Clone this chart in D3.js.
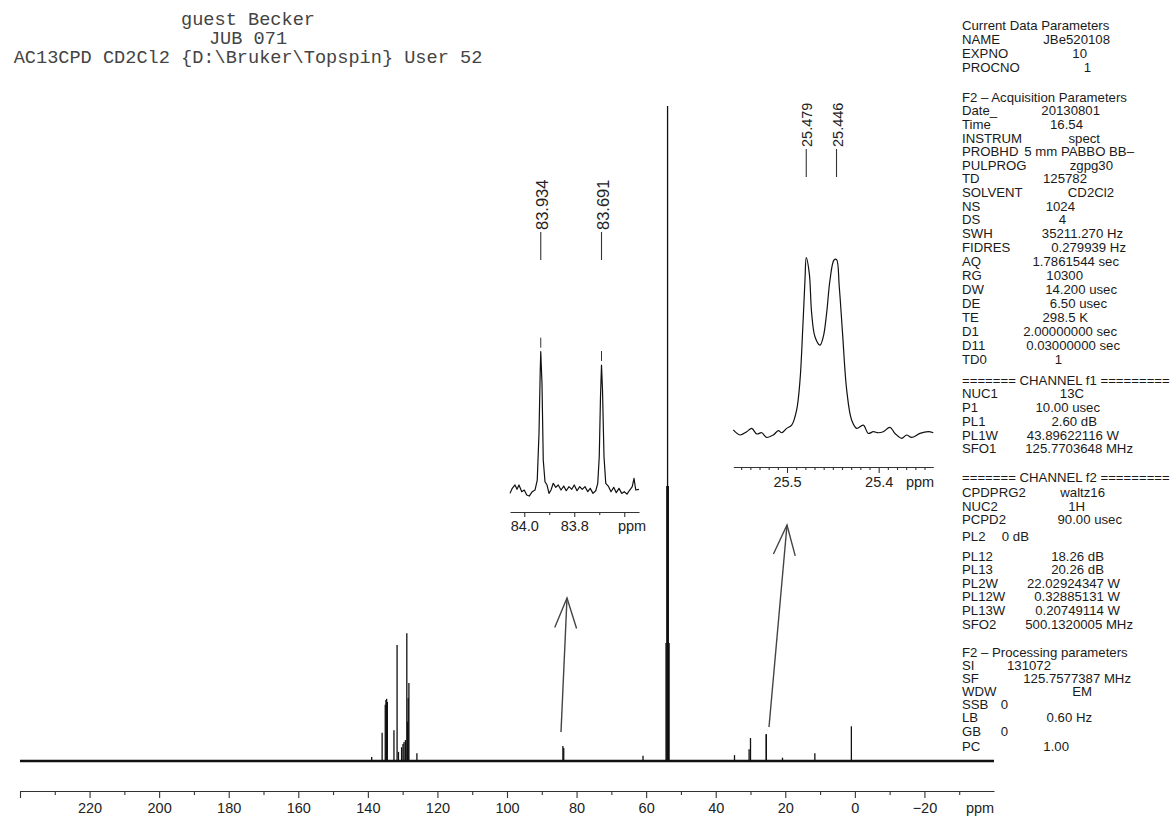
<!DOCTYPE html>
<html>
<head>
<meta charset="utf-8">
<script src="https://cdn.jsdelivr.net/npm/d3@7"></script>
<style>
  html, body { margin: 0; padding: 0; background: #fff; }
  svg { display: block; }
</style>
</head>
<body>
<svg id="nmr" width="1175" height="816"></svg>
<script>
// ---- data ----
const titleLines = ["guest Becker", "JUB 071", "AC13CPD CD2Cl2 {D:\\Bruker\\Topspin} User 52"];

// main 13C spectrum: [ppm, intensity in % of the solvent line]
const mainPeaks = [
  [138.9, 0.6], [135.9, 4.3], [135.0, 8.6], [134.8, 9.3], [134.6, 9.5], [134.4, 9.0],
  [132.5, 4.7], [131.6, 17.7], [131.2, 1.4], [130.3, 2.1], [129.9, 2.6], [129.6, 2.9],
  [129.2, 3.2], [128.8, 19.5], [128.6, 6.0], [128.4, 9.6], [128.2, 11.9], [125.9, 1.2],
  [83.934, 2.3], [83.691, 2.0], [60.9, 0.8],
  [54.28, 18], [54.06, 42], [53.84, 100], [53.62, 42], [53.40, 18],
  [34.6, 0.9], [30.4, 1.8], [30.0, 3.5], [25.479, 4.1], [25.446, 4.1],
  [20.8, 0.5], [11.5, 1.2], [1.0, 5.3]
];
const mainMajorTicks = [240, 220, 200, 180, 160, 140, 120, 100, 80, 60, 40, 20, 0, -20];
const mainMinorTicks = [230, 210, 190, 170, 150, 130, 110, 90, 70, 50, 30, 10, -10, -30];
const mainTickLabels = [220, 200, 180, 160, 140, 120, 100, 80, 60, 40, 20, 0, -20];

// inset around 83.8 ppm: [ppm, relative intensity]
const inset1Spectrum = [
  [84.057, -1.2], [84.048, 2.4], [84.037, 4.8], [84.029, 1.7], [84.021, 4.8], [84.010, 0],
  [84.000, 1.2], [83.990, -2.4], [83.980, -3.1], [83.968, 0], [83.957, 1.2], [83.948, 8.3],
  [83.941, 41.7], [83.936, 87], [83.934, 100], [83.929, 77], [83.924, 22.6], [83.917, 7.1],
  [83.909, 4.8], [83.901, -1.2], [83.893, 1.2], [83.884, 6], [83.874, 3.1], [83.864, 4.8],
  [83.853, 1.2], [83.842, 4], [83.832, 0.7], [83.821, 3.6], [83.810, 1.7], [83.800, 4.8],
  [83.789, 0.7], [83.778, 3.6], [83.768, 1.7], [83.757, 3.6], [83.746, 0], [83.736, 2.4],
  [83.725, -1.2], [83.714, 0.7], [83.706, 6], [83.700, 25], [83.695, 68], [83.691, 90.5],
  [83.687, 72.6], [83.681, 25], [83.674, 6], [83.664, 4], [83.653, 0], [83.642, 3.1],
  [83.632, -0.7], [83.621, 2.4], [83.610, -1.2], [83.600, 0], [83.589, -1.7], [83.578, 1.2],
  [83.568, 3.6], [83.561, 9.5], [83.554, 1.2], [83.541, 1.7]
];
const inset1Picks = [[83.934, 100], [83.691, 90.5]];
const inset1MajorTicks = [84.0, 83.8, 83.6];
const inset1MinorTicks = [83.9, 83.7];
const inset1TickLabels = [84.0, 83.8];

// inset around 25.45 ppm
const inset2Spectrum = [
  [25.5586, 1.0], [25.5513, -1.9], [25.5440, 0], [25.5385, 1.9], [25.5331, -1.3], [25.5276, -0.6],
  [25.5222, -3.3], [25.5149, -1.9], [25.5095, 0.6], [25.5058, -0.6], [25.5004, 1.9], [25.4949, 3.8],
  [25.4895, 12.5], [25.4858, 29.7], [25.4829, 58.4], [25.4804, 87.2], [25.479, 100], [25.4757, 91],
  [25.4731, 68], [25.4695, 54.6], [25.4640, 49.8], [25.4604, 54.6], [25.4568, 68], [25.4531, 87.2],
  [25.4487, 98.7], [25.446, 99], [25.4430, 83.3], [25.4394, 56.5], [25.4349, 24], [25.4295, 6.7],
  [25.4240, 1.9], [25.4168, 3.8], [25.4113, -1], [25.4059, 0], [25.4004, -0.6], [25.3950, 0],
  [25.3877, 2.5], [25.3822, -1], [25.3749, -3.8], [25.3695, -1.9], [25.3640, -3.3], [25.3550, -1],
  [25.3459, 0], [25.3404, -0.6]
];
const inset2Picks = [25.479, 25.446];
const inset2MajorTicks = [25.5, 25.4];
const inset2MinorTicks = [25.55, 25.54, 25.53, 25.52, 25.51, 25.49, 25.48, 25.47, 25.46, 25.45,
  25.44, 25.43, 25.42, 25.41, 25.39, 25.38, 25.37, 25.36, 25.35];
const inset2TickLabels = [25.5, 25.4];

// parameter block
const paramLabels = ["Current Data Parameters", "NAME", "EXPNO", "PROCNO",
  "F2 \u2013 Acquisition Parameters", "Date_", "Time", "INSTRUM", "PROBHD", "PULPROG", "TD",
  "SOLVENT", "NS", "DS", "SWH", "FIDRES", "AQ", "RG", "DW", "DE", "TE", "D1", "D11", "TD0",
  "======= CHANNEL f1 =========", "NUC1", "P1", "PL1", "PL1W", "SFO1",
  "======= CHANNEL f2 =========", "CPDPRG2", "NUC2", "PCPD2", "PL2", "PL12", "PL13",
  "PL2W", "PL12W", "PL13W", "SFO2",
  "F2 \u2013 Processing parameters", "SI", "SF", "WDW", "SSB", "LB", "GB", "PC"];
const paramValues = ["", "JBe520108", "10", "1",
  "", "20130801", "16.54", "spect", "5 mm PABBO BB\u2013", "zgpg30", "125782",
  "CD2Cl2", "1024", "4", "35211.270 Hz", "0.279939 Hz", "1.7861544 sec", "10300", "14.200 usec",
  "6.50 usec", "298.5 K", "2.00000000 sec", "0.03000000 sec", "1",
  "", "13C", "10.00 usec", "2.60 dB", "43.89622116 W", "125.7703648 MHz",
  "", "waltz16", "1H", "90.00 usec", "0 dB", "18.26 dB", "20.26 dB",
  "22.02924347 W", "0.32885131 W", "0.20749114 W", "500.1320005 MHz",
  "", "131072", "125.7577387 MHz", "EM", "0", "0.60 Hz", "0", "1.00"];

// ---- layout ----
const svg = d3.select("svg#nmr");
const sans = "'Liberation Sans', Arial, Helvetica, sans-serif";
const ink = "#222";

const baseY = 761, axisY = 791;
const x = d3.scaleLinear().domain([240, -40]).range([20, 994]);
const y = d3.scaleLinear().domain([0, 100]).range([baseY, 106]);

const paramX = 962;
const paramRowY = [25, 39, 53, 67,
  97, 110, 124, 138, 151, 165, 178, 192, 206, 219, 233, 247, 261, 275, 289, 303, 317, 331, 345, 359,
  380, 393, 407, 421, 435, 448,
  477, 492, 506, 519, 536, 556, 569, 583, 596, 610, 624,
  652, 665, 678, 691, 704, 717, 731, 746];
// right end of each value; PROBHD value starts just after its label instead
const paramValueEnd = [null, 1110, 1087, 1091,
  null, 1100, 1083, 1100, 1134, 1113, 1087, 1114, 1075, 1066, 1123, 1126, 1119, 1083, 1117, 1107, 1088, 1117, 1120, 1062,
  null, 1084, 1100, 1097, 1119, 1133,
  null, 1105, 1085, 1122, 1029, 1104, 1104, 1120, 1120, 1120, 1133,
  null, 1051, 1131, 1092, 1008, 1092, 1008, 1069];

// title
svg.append("g").selectAll("text")
  .data(titleLines)
  .join("text")
  .attr("x", 248)
  .attr("y", (d, i) => 25 + i * 19)
  .attr("text-anchor", "middle")
  .attr("font-family", "'Liberation Mono', 'Courier New', monospace")
  .attr("font-size", 18.6)
  .attr("fill", "#444")
  .text(d => d);

// parameter block
const params = svg.append("g").attr("font-family", sans).attr("font-size", 13.2).attr("fill", "#1a1a1a");
params.selectAll("text.lab")
  .data(paramLabels)
  .join("text")
  .attr("class", "lab")
  .attr("x", paramX)
  .attr("y", (d, i) => paramRowY[i])
  .attr("dominant-baseline", "central")
  .text(d => d);
params.selectAll("text.val")
  .data(paramValues)
  .join("text")
  .attr("class", "val")
  .attr("x", (d, i) => paramValueEnd[i] || 0)
  .attr("y", (d, i) => paramRowY[i])
  .attr("text-anchor", "end")
  .attr("dominant-baseline", "central")
  .text(d => d);

// main spectrum
const chart = svg.append("g").attr("id", "spectrum");
chart.append("path")
  .datum([[240, 0], [-40, 0]])
  .attr("fill", "none")
  .attr("stroke", "#111")
  .attr("stroke-width", 2.3)
  .attr("d", d3.line().x(d => x(d[0])).y(d => y(d[1])));
chart.selectAll("line.peak")
  .data(mainPeaks)
  .join("line")
  .attr("class", "peak")
  .attr("x1", d => x(d[0]))
  .attr("x2", d => x(d[0]))
  .attr("y1", y(0))
  .attr("y2", d => y(d[1]))
  .attr("stroke", "#111")
  .attr("stroke-width", 1.3);

// main axis
function styleAxis(g, size) {
  g.attr("font-family", sans).attr("font-size", size);
  g.select(".domain").attr("stroke", "#333").attr("stroke-width", 1.2);
  g.selectAll(".tick line").attr("stroke", "#333").attr("stroke-width", 1.1);
  g.selectAll(".tick text").attr("fill", ink);
}
const fmtMain = d => mainTickLabels.includes(d) ? d3.format("d")(d) : "";
const mainAxis = svg.append("g")
  .attr("transform", `translate(0,${axisY})`)
  .call(d3.axisBottom(x).tickValues(mainMajorTicks).tickSize(7).tickPadding(5)
    .tickSizeOuter(0).tickFormat(fmtMain));
styleAxis(mainAxis, 14.5);
const mainMinor = svg.append("g")
  .attr("transform", `translate(0,${axisY})`)
  .call(d3.axisBottom(x).tickValues(mainMinorTicks).tickSize(4).tickFormat(""));
mainMinor.select(".domain").remove();
styleAxis(mainMinor, 14.5);
svg.append("text")
  .attr("x", 980).attr("y", axisY + 12).attr("dy", "0.71em")
  .attr("text-anchor", "middle")
  .attr("font-family", sans).attr("font-size", 14.5).attr("fill", ink)
  .text("ppm");

// inset 1 (83.9 / 83.7 ppm)
const xi1 = d3.scaleLinear().domain([84.057, 83.541]).range([510, 639]);
const yi1 = d3.scaleLinear().domain([0, 100]).range([491.7, 351.7]);
const inset1 = svg.append("g").attr("id", "inset1");
inset1.append("path")
  .datum(inset1Spectrum)
  .attr("fill", "none")
  .attr("stroke", "#111")
  .attr("stroke-width", 1.2)
  .attr("stroke-linejoin", "round")
  .attr("d", d3.line().x(d => xi1(d[0])).y(d => yi1(d[1])));
inset1.selectAll("line.pick")
  .data(inset1Picks)
  .join("line")
  .attr("class", "pick")
  .attr("x1", d => xi1(d[0])).attr("x2", d => xi1(d[0]))
  .attr("y1", d => yi1(d[1]) - 14).attr("y2", d => yi1(d[1]) - 4)
  .attr("stroke", "#333").attr("stroke-width", 1);
const fmt1 = d => inset1TickLabels.includes(d) ? d3.format(".1f")(d) : "";
const in1Axis = inset1.append("g")
  .attr("transform", "translate(0,512)")
  .call(d3.axisBottom(xi1).tickValues(inset1MajorTicks).tickSize(5).tickPadding(4)
    .tickSizeOuter(0).tickFormat(fmt1));
styleAxis(in1Axis, 14.5);
const in1Minor = inset1.append("g")
  .attr("transform", "translate(0,512)")
  .call(d3.axisBottom(xi1).tickValues(inset1MinorTicks).tickSize(3).tickFormat(""));
in1Minor.select(".domain").remove();
styleAxis(in1Minor, 14.5);
inset1.append("text")
  .attr("x", 632).attr("y", 521).attr("dy", "0.71em")
  .attr("text-anchor", "middle")
  .attr("font-family", sans).attr("font-size", 14.5).attr("fill", ink)
  .text("ppm");
inset1.selectAll("line.lbl")
  .data(inset1Picks)
  .join("line")
  .attr("class", "lbl")
  .attr("x1", d => xi1(d[0])).attr("x2", d => xi1(d[0]))
  .attr("y1", 232).attr("y2", 260)
  .attr("stroke", "#333").attr("stroke-width", 1.1);
inset1.selectAll("text.lbl")
  .data(inset1Picks)
  .join("text")
  .attr("class", "lbl")
  .attr("transform", d => `translate(${xi1(d[0]) + 1},230) rotate(-90)`)
  .attr("dominant-baseline", "central")
  .attr("font-family", sans).attr("font-size", 16.5).attr("fill", ink)
  .text(d => d3.format(".3f")(d[0]));

// inset 2 (25.48 / 25.45 ppm)
const xi2 = d3.scaleLinear().domain([25.5586, 25.3404]).range([733.3, 933.3]);
const yi2 = d3.scaleLinear().domain([0, 100]).range([431.7, 257.7]);
const inset2 = svg.append("g").attr("id", "inset2");
inset2.append("path")
  .datum(inset2Spectrum)
  .attr("fill", "none")
  .attr("stroke", "#111")
  .attr("stroke-width", 1.2)
  .attr("d", d3.line().x(d => xi2(d[0])).y(d => yi2(d[1])).curve(d3.curveCatmullRom));
const fmt2 = d => inset2TickLabels.includes(d) ? d3.format(".1f")(d) : "";
const in2Axis = inset2.append("g")
  .attr("transform", "translate(0,467)")
  .call(d3.axisBottom(xi2).tickValues(inset2MajorTicks).tickSize(6).tickPadding(4)
    .tickSizeOuter(0).tickFormat(fmt2));
styleAxis(in2Axis, 14.5);
const in2Minor = inset2.append("g")
  .attr("transform", "translate(0,467)")
  .call(d3.axisBottom(xi2).tickValues(inset2MinorTicks).tickSize(3).tickFormat(""));
in2Minor.select(".domain").remove();
styleAxis(in2Minor, 14.5);
inset2.append("text")
  .attr("x", 920).attr("y", 477).attr("dy", "0.71em")
  .attr("text-anchor", "middle")
  .attr("font-family", sans).attr("font-size", 14.5).attr("fill", ink)
  .text("ppm");
inset2.selectAll("line.lbl")
  .data(inset2Picks)
  .join("line")
  .attr("class", "lbl")
  .attr("x1", d => xi2(d)).attr("x2", d => xi2(d))
  .attr("y1", 149).attr("y2", 177)
  .attr("stroke", "#333").attr("stroke-width", 1.1);
inset2.selectAll("text.lbl")
  .data(inset2Picks)
  .join("text")
  .attr("class", "lbl")
  .attr("transform", d => `translate(${xi2(d) + 1},147) rotate(-90)`)
  .attr("dominant-baseline", "central")
  .attr("font-family", sans).attr("font-size", 14.5).attr("fill", ink)
  .text(d => d3.format(".3f")(d));

// arrows from the main peaks up to the insets
const arrows = [
  { from: [561, 732], to: [567, 598] },
  { from: [769, 727], to: [787, 525] }
];
const arrowG = svg.append("g").attr("stroke", "#444").attr("stroke-width", 1.4).attr("fill", "none");
arrows.forEach(a => {
  const dx = a.from[0] - a.to[0], dy = a.from[1] - a.to[1];
  const len = Math.hypot(dx, dy), ux = dx / len, uy = dy / len;
  const ang = 20 * Math.PI / 180, L = 32;
  const arm = s => [a.to[0] + L * (ux * Math.cos(s * ang) - uy * Math.sin(s * ang)),
                    a.to[1] + L * (ux * Math.sin(s * ang) + uy * Math.cos(s * ang))];
  arrowG.append("line")
    .attr("x1", a.from[0]).attr("y1", a.from[1]).attr("x2", a.to[0]).attr("y2", a.to[1]);
  arrowG.append("path")
    .attr("d", d3.line()([arm(1), a.to, arm(-1)]));
});
</script>
</body>
</html>
